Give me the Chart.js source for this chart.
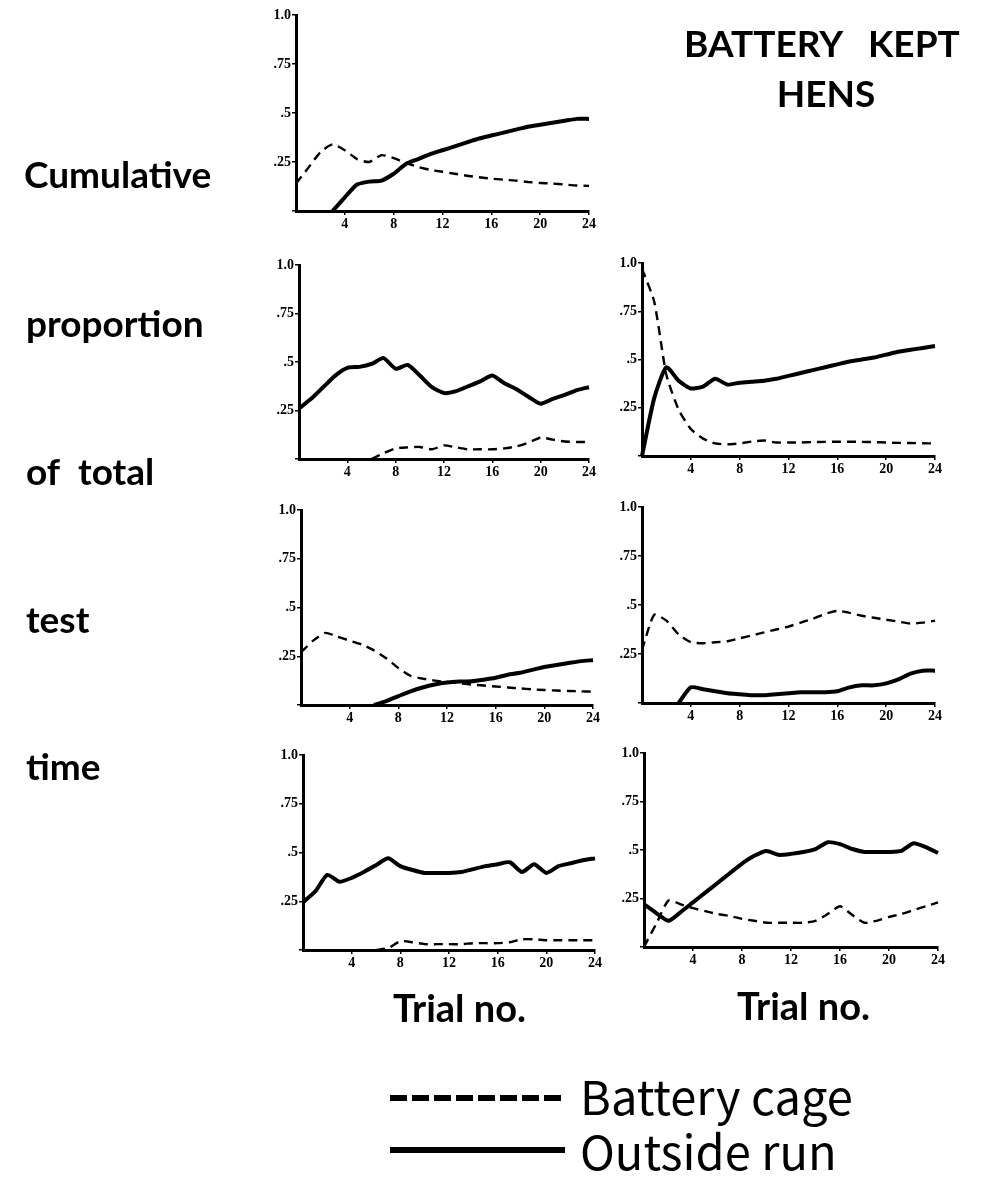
<!DOCTYPE html>
<html>
<head>
<meta charset="utf-8">
<script src="https://cdn.jsdelivr.net/npm/chart.js@4.4.1/dist/chart.umd.min.js"></script>
<style>
  body { margin: 0; background: #fff; }
  #page { position: relative; width: 981px; height: 1178px; overflow: hidden; }
  canvas { position: absolute; }
</style>
</head>
<body>
<div id="page">
  <canvas id="bg" width="981" height="1178" style="left:0;top:0"></canvas>
</div>
<script>
// trial numbers on the x axis
const trials = [0, 1, 2, 3, 4, 5, 6, 7, 8, 9, 10, 11, 12, 13, 14, 15, 16, 17, 18, 19, 20, 21, 22, 23, 24];
const xTicks = [4, 8, 12, 16, 20, 24];
const yTicks = [0, 0.25, 0.5, 0.75, 1];
const yTickLabels = ["", ".25", ".5", ".75", "1.0"];

// row 1
const p1Battery = [0.14, 0.22, 0.30, 0.34, 0.31, 0.265, 0.25, 0.285, 0.27, 0.245, 0.225, 0.21, 0.20, 0.19, 0.18, 0.172, 0.165, 0.16, 0.155, 0.148, 0.143, 0.14, 0.135, 0.13, 0.128];
const p1Outside = [null, null, null, 0, 0.07, 0.135, 0.15, 0.155, 0.19, 0.24, 0.265, 0.29, 0.31, 0.33, 0.35, 0.37, 0.385, 0.40, 0.415, 0.43, 0.44, 0.45, 0.46, 0.47, 0.47];
// row 2
const p2Battery = [null, null, null, null, null, null, 0, 0.03, 0.055, 0.06, 0.062, 0.05, 0.07, 0.06, 0.05, 0.05, 0.05, 0.055, 0.065, 0.085, 0.11, 0.10, 0.09, 0.088, 0.088];
const p2Outside = [0.26, 0.31, 0.37, 0.43, 0.47, 0.475, 0.49, 0.52, 0.465, 0.485, 0.43, 0.37, 0.34, 0.35, 0.375, 0.40, 0.43, 0.39, 0.36, 0.32, 0.285, 0.31, 0.33, 0.355, 0.37];
const p3Battery = [0.97, 0.80, 0.42, 0.24, 0.14, 0.09, 0.065, 0.06, 0.065, 0.075, 0.08, 0.07, 0.07, 0.07, 0.072, 0.073, 0.074, 0.074, 0.073, 0.072, 0.07, 0.068, 0.067, 0.066, 0.065];
const p3Outside = [0, 0.30, 0.46, 0.39, 0.35, 0.36, 0.40, 0.37, 0.38, 0.385, 0.39, 0.40, 0.415, 0.43, 0.445, 0.46, 0.475, 0.49, 0.50, 0.51, 0.525, 0.54, 0.55, 0.56, 0.57];
// row 3
const p4Battery = [0.27, 0.33, 0.37, 0.35, 0.33, 0.31, 0.28, 0.24, 0.19, 0.15, 0.135, 0.125, 0.118, 0.112, 0.105, 0.10, 0.095, 0.09, 0.085, 0.08, 0.077, 0.074, 0.072, 0.07, 0.068];
const p4Outside = [null, null, null, null, null, null, 0, 0.02, 0.045, 0.07, 0.09, 0.105, 0.115, 0.12, 0.122, 0.13, 0.14, 0.155, 0.165, 0.18, 0.195, 0.205, 0.215, 0.225, 0.23];
const p5Battery = [0.27, 0.45, 0.42, 0.35, 0.31, 0.305, 0.31, 0.315, 0.33, 0.345, 0.36, 0.375, 0.39, 0.41, 0.43, 0.455, 0.47, 0.46, 0.445, 0.435, 0.425, 0.415, 0.405, 0.41, 0.42];
const p5Outside = [null, null, null, 0, 0.08, 0.07, 0.06, 0.05, 0.045, 0.04, 0.04, 0.045, 0.05, 0.055, 0.055, 0.055, 0.06, 0.08, 0.09, 0.09, 0.10, 0.12, 0.15, 0.165, 0.165];
// row 4
const p6Battery = [null, null, null, null, null, null, 0, 0.01, 0.045, 0.04, 0.03, 0.03, 0.03, 0.03, 0.035, 0.035, 0.035, 0.04, 0.055, 0.055, 0.05, 0.05, 0.05, 0.05, 0.05];
const p6Outside = [0.245, 0.30, 0.385, 0.35, 0.37, 0.40, 0.435, 0.47, 0.43, 0.41, 0.395, 0.395, 0.395, 0.40, 0.415, 0.43, 0.44, 0.45, 0.40, 0.44, 0.395, 0.43, 0.445, 0.46, 0.47];
const p7Battery = [0, 0.12, 0.24, 0.22, 0.20, 0.185, 0.17, 0.16, 0.145, 0.135, 0.125, 0.125, 0.125, 0.125, 0.135, 0.17, 0.21, 0.165, 0.125, 0.135, 0.155, 0.17, 0.19, 0.21, 0.23];
const p7Outside = [0.22, 0.175, 0.135, 0.18, 0.23, 0.28, 0.33, 0.38, 0.43, 0.47, 0.495, 0.475, 0.48, 0.49, 0.505, 0.54, 0.53, 0.505, 0.49, 0.49, 0.49, 0.495, 0.535, 0.515, 0.485];

// plot area of each panel on the page: left, top (1.0), right (24), bottom (0)
const panels = [
  { battery: p1Battery, outside: p1Outside, box: [296, 15, 589, 211] },
  { battery: p2Battery, outside: p2Outside, box: [299, 265, 589, 459] },
  { battery: p3Battery, outside: p3Outside, box: [642, 263, 935, 456] },
  { battery: p4Battery, outside: p4Outside, box: [301, 510, 593, 705] },
  { battery: p5Battery, outside: p5Outside, box: [642, 507, 935, 703] },
  { battery: p6Battery, outside: p6Outside, box: [303, 755, 595, 950] },
  { battery: p7Battery, outside: p7Outside, box: [644, 753, 938, 947] }
];

const AXIS_W = 40, AXIS_H = 24, PAD_T = 10, PAD_R = 16;
const tickFont = { family: "'Liberation Serif', serif", weight: "bold", size: 14 };

function toPoints(values) {
  return trials.map((t, i) => ({ x: t, y: values[i] }));
}

function makePanel(p) {
  const [l, t, r, b] = p.box;
  const c = document.createElement("canvas");
  c.width = AXIS_W + (r - l) + PAD_R;
  c.height = PAD_T + (b - t) + AXIS_H;
  c.style.left = (l - AXIS_W) + "px";
  c.style.top = (t - PAD_T) + "px";
  document.getElementById("page").appendChild(c);

  new Chart(c.getContext("2d"), {
    type: "line",
    data: {
      datasets: [
        {
          label: "Battery cage",
          data: toPoints(p.battery),
          borderColor: "#000",
          borderWidth: 2.4,
          borderDash: [9, 6],
          pointRadius: 0,
          tension: 0.2,
          clip: false
        },
        {
          label: "Outside run",
          data: toPoints(p.outside),
          borderColor: "#000",
          borderWidth: 4,
          pointRadius: 0,
          tension: 0.2,
          clip: false
        }
      ]
    },
    options: {
      responsive: false,
      animation: false,
      devicePixelRatio: 1,
      layout: { padding: { top: PAD_T, right: PAD_R, left: 0, bottom: 0 } },
      plugins: { legend: { display: false }, tooltip: { enabled: false } },
      scales: {
        x: {
          type: "linear",
          min: 0,
          max: 24,
          afterBuildTicks: (s) => { s.ticks = xTicks.map((v) => ({ value: v })); },
          afterFit: (s) => { s.height = AXIS_H; },
          ticks: { color: "#000", font: tickFont, padding: 1, maxRotation: 0 },
          grid: { drawOnChartArea: false, color: "#000", lineWidth: 1.5, tickLength: 4 },
          border: { color: "#000", width: 3 }
        },
        y: {
          min: 0,
          max: 1,
          afterBuildTicks: (s) => { s.ticks = yTicks.map((v) => ({ value: v })); },
          afterFit: (s) => { s.width = AXIS_W; },
          ticks: {
            color: "#000",
            font: tickFont,
            padding: 1,
            callback: (v, i) => yTickLabels[i]
          },
          grid: { drawOnChartArea: false, color: "#000", lineWidth: 1.5, tickLength: 4 },
          border: { color: "#000", width: 3 }
        }
      }
    }
  });
}

panels.forEach(makePanel);

// text around the panels and the key
const bg = document.getElementById("bg").getContext("2d");
bg.fillStyle = "#000";
bg.textBaseline = "alphabetic";

bg.font = "bold 37px Lato";
bg.fillText("Cumulative", 24, 188);
bg.fillText("proportion", 26, 337);
bg.fillText("of  total", 26, 485);
bg.fillText("test", 26, 633);
bg.fillText("time", 26, 780);

bg.font = "bold 37px Lato";
bg.fillText("BATTERY", 684, 57);
bg.fillText("KEPT", 868, 57);
bg.textAlign = "center";
bg.fillText("HENS", 826, 107);
bg.textAlign = "left";

bg.font = "bold 38px Lato";
bg.fillText("Trial no.", 393, 1022);
bg.fillText("Trial no.", 737, 1020);

bg.strokeStyle = "#000";
bg.lineWidth = 6;
bg.setLineDash([17, 5]);
bg.beginPath();
bg.moveTo(390, 1098);
bg.lineTo(562, 1098);
bg.stroke();
bg.setLineDash([]);
bg.beginPath();
bg.moveTo(390, 1150);
bg.lineTo(565, 1150);
bg.stroke();

bg.font = "400 47px 'Noto Sans CJK JP'";
bg.fillText("Battery cage", 580, 1115);
bg.fillText("Outside run", 580, 1170);
</script>
</body>
</html>
